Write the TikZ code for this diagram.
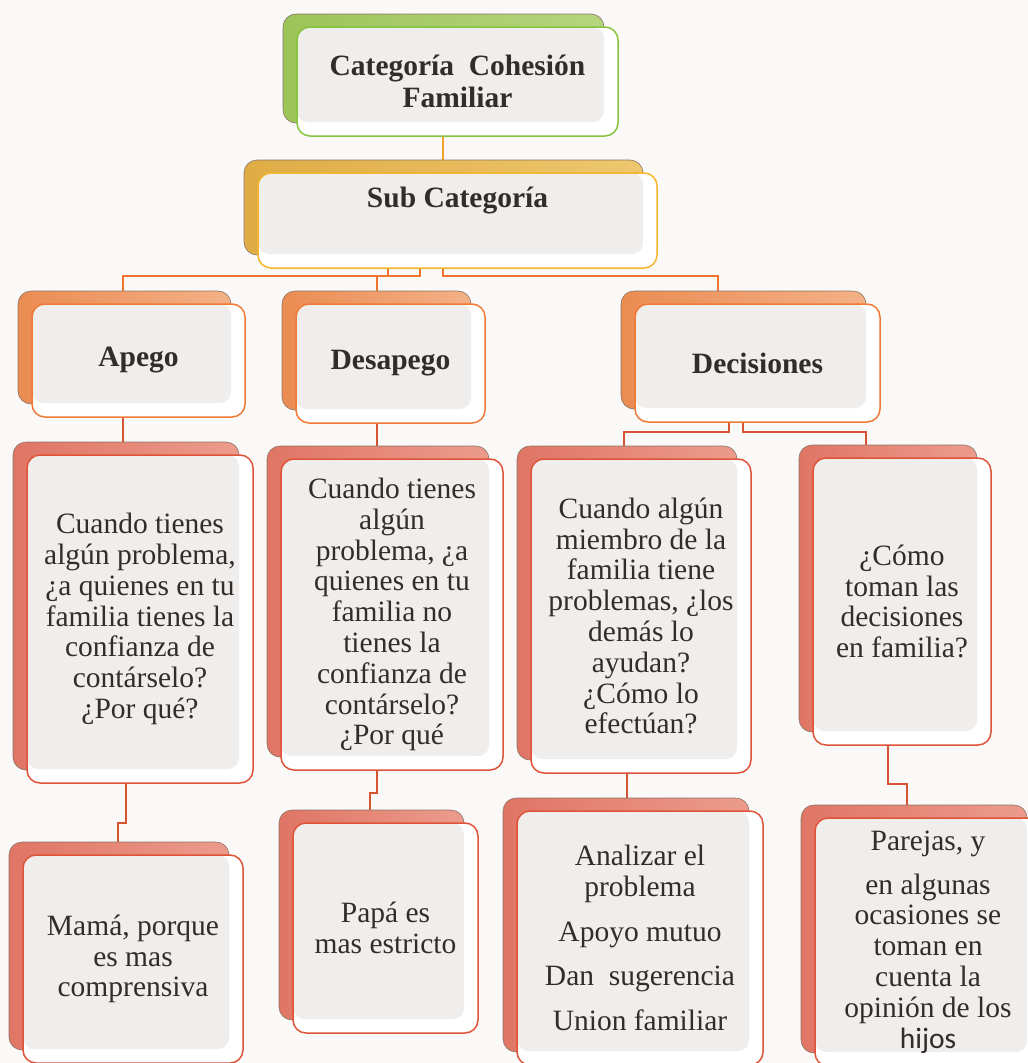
\documentclass[tikz,border=0pt]{standalone}
\usepackage{fontspec}
\setmainfont{Liberation Serif}
\newfontfamily\carlito{Carlito}
\usetikzlibrary{shadows}

\definecolor{pagebg}{HTML}{FAF9F7}
\definecolor{innergray}{HTML}{F0EEEC}
\definecolor{txt}{HTML}{332C2C}
\definecolor{greenB}{HTML}{86C43F}
\definecolor{greenL}{HTML}{9CC459}
\definecolor{greenR}{HTML}{B5D57E}
\definecolor{goldB}{HTML}{F5B52A}
\definecolor{goldL}{HTML}{DFAC45}
\definecolor{goldR}{HTML}{EEC76E}
\definecolor{peachB}{HTML}{EF7A36}
\definecolor{peachL}{HTML}{EA8C52}
\definecolor{peachR}{HTML}{F4B187}
\definecolor{salB}{HTML}{DF5339}
\definecolor{salL}{HTML}{DF7565}
\definecolor{salR}{HTML}{EC9C8C}
\definecolor{backedge}{HTML}{8C7468}
\definecolor{connA}{HTML}{F0A22A}
\definecolor{connB}{HTML}{F07430}
\definecolor{connC}{HTML}{D55533}

\pgfdeclarelayer{bgzero}
\pgfdeclarelayer{background}
\pgfsetlayers{bgzero,background,main}

\tikzset{
  frontbox/.style={draw, line width=1.5pt, rounded corners=13pt, fill=white,
    inner sep=0pt, align=center, text=txt,
    path picture={\fill[innergray, rounded corners=11pt]
      (path picture bounding box.north west) rectangle
      ([xshift=-14pt,yshift=14pt]path picture bounding box.south east);}},
  backbox/.style 2 args={general shadow={shadow xshift=-14pt, shadow yshift=13pt,
    left color=#1, right color=#2, draw=backedge, line width=0.6pt}},
  headfont/.style={font=\bfseries\fontsize{29.5}{32}\selectfont},
  bodyfont/.style={font=\fontsize{29.5}{30.8}\selectfont},
  lvlA/.style={frontbox, draw=greenB, backbox={greenL}{greenR}, headfont},
  lvlB/.style={frontbox, draw=goldB, backbox={goldL}{goldR}, headfont},
  lvlC/.style={frontbox, draw=peachB, backbox={peachL}{peachR}, headfont},
  lvlD/.style={frontbox, draw=salB, backbox={salL}{salR}, bodyfont},
  conn/.style={line width=2.3pt},
}

\begin{document}
\begin{tikzpicture}[x=1pt, y=-1pt]
\useasboundingbox (0,0) rectangle (1028,1063);
\clip (0,0) rectangle (1028,1063);
\begin{pgfonlayer}{bgzero}
\fill[pagebg] (0,0) rectangle (1028,1063);
\end{pgfonlayer}

% level 1 and 2
\node[lvlA, minimum width=321pt, minimum height=109pt] (cat) at (457.5,81.5)
  {Categoría\ \ Cohesión\\Familiar};
\node[lvlB, minimum width=399pt, minimum height=95pt] (sub) at (457.5,220.5)
  {Sub Categoría\\[15pt]\mbox{}};

% level 3
\node[lvlC, minimum width=213pt, minimum height=113pt] (apego) at (138.5,360.5) {Apego};
\node[lvlC, minimum width=189pt, minimum height=119pt] (desapego) at (390.5,363.5) {Desapego};
\node[lvlC, minimum width=245pt, minimum height=118pt] (decis) at (757.5,363) {Decisiones};

% questions
\node[lvlD, minimum width=226pt, minimum height=328pt] (apq) at (140,619)
  {Cuando tienes\\algún problema,\\¿a quienes en tu\\familia tienes la\\confianza de\\contárselo?\\¿Por qué?};
\node[lvlD, minimum width=222pt, minimum height=311pt] (desq) at (392,614.5)
  {Cuando tienes\\algún\\problema, ¿a\\quienes en tu\\familia no\\tienes la\\confianza de\\contárselo?\\¿Por qué};
\node[lvlD, minimum width=220pt, minimum height=314pt] (dqa) at (641,616)
  {Cuando algún\\miembro de la\\familia tiene\\problemas, ¿los\\demás lo\\ayudan?\\¿Cómo lo\\efectúan?};
\node[lvlD, minimum width=178pt, minimum height=287pt] (dqb) at (902,601.5)
  {¿Cómo\\toman las\\decisiones\\en familia?};

% answers
\node[lvlD, minimum width=220pt, minimum height=208pt] (mama) at (133,959)
  {Mamá, porque\\es mas\\comprensiva};
\node[lvlD, minimum width=185pt, minimum height=210pt] (papa) at (385.5,928)
  {Papá es\\mas estricto};
\node[lvlD, minimum width=246pt, minimum height=254pt] (anal) at (640,938)
  {Analizar el\\problema\\[14pt]Apoyo mutuo\\[14pt]Dan\ \ sugerencia\\[14pt]Union familiar};
\node[lvlD, minimum width=226pt, minimum height=248pt] (parejas) at (928,942)
  {Parejas, y\\[13pt]en algunas\\ocasiones se\\toman en\\cuenta la\\opinión de los\\{\carlito hijos}};

% connectors
\begin{pgfonlayer}{background}
\draw[conn, connA] ([xshift=-14.5pt]cat.south) -- ([xshift=-14.5pt]sub.north);

\draw[conn, connB] ([xshift=-69.5pt]sub.south) -- ++(0,7) -| ([xshift=-15.5pt]apego.north);
\draw[conn, connB] ([xshift=-37.5pt]sub.south) -- ++(0,7) -| ([xshift=-13.5pt]desapego.north);
\draw[conn, connB] ([xshift=-14.5pt]sub.south) -- ++(0,7) -| ([xshift=-39.5pt]decis.north);

\draw[conn, connC] ([xshift=-15.5pt]apego.south) -- ([xshift=-17pt]apq.north);
\draw[conn, connC] ([xshift=-13.5pt]desapego.south) -- ([xshift=-15pt]desq.north);
\draw[conn, connC] ([xshift=-28.5pt]decis.south) -- ++(0,9) -| ([xshift=-17pt]dqa.north);
\draw[conn, connC] ([xshift=-14.5pt]decis.south) -- ++(0,9) -| ([xshift=-36pt]dqb.north);

\draw[conn, connC] ([xshift=-14pt]apq.south) -- ++(0,39) -| ([xshift=-15pt]mama.north);
\draw[conn, connC] ([xshift=-15pt]desq.south) -- ++(0,22) -| ([xshift=-15.5pt]papa.north);
\draw[conn, connC] ([xshift=-14pt]dqa.south) -- ([xshift=-13pt]anal.north);
\draw[conn, connC] ([xshift=-14pt]dqb.south) -- ++(0,38) -| ([xshift=-21pt]parejas.north);
\end{pgfonlayer}
\end{tikzpicture}
\end{document}
